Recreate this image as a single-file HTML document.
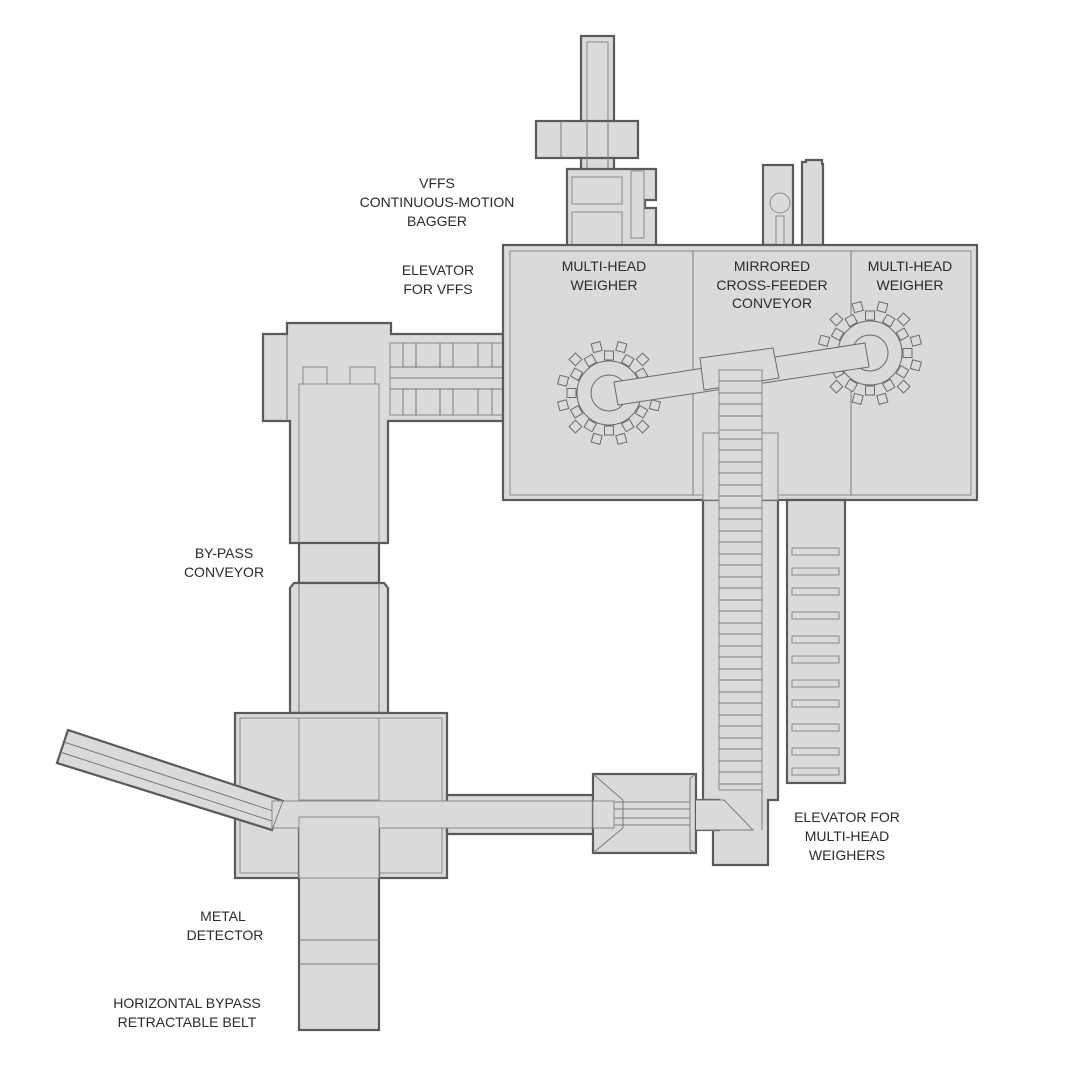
<!DOCTYPE html>
<html><head><meta charset="utf-8"><style>
html,body{margin:0;padding:0;background:#fff;}
svg{display:block;}
text{font-family:"Liberation Sans",sans-serif;font-size:14px;fill:#2a2a2a;text-anchor:middle;}
.o{fill:#dadada;stroke:#5a5a5a;stroke-width:2.2;}
.t{fill:#dadada;stroke:#8a8a8a;stroke-width:1;}
.l{fill:none;stroke:#7a7a7a;stroke-width:1;}
.b{fill:#dadada;stroke:#6a6a6a;stroke-width:1;}
</style></head><body>
<svg width="1080" height="1080" viewBox="0 0 1080 1080">
<defs>
<g id="dial">
<g class="b">
<rect x="-4.5" y="-42" width="9" height="9"/><rect x="-4.5" y="-42" width="9" height="9" transform="rotate(30)"/><rect x="-4.5" y="-42" width="9" height="9" transform="rotate(60)"/><rect x="-4.5" y="-42" width="9" height="9" transform="rotate(90)"/><rect x="-4.5" y="-42" width="9" height="9" transform="rotate(120)"/><rect x="-4.5" y="-42" width="9" height="9" transform="rotate(150)"/><rect x="-4.5" y="-42" width="9" height="9" transform="rotate(180)"/><rect x="-4.5" y="-42" width="9" height="9" transform="rotate(210)"/><rect x="-4.5" y="-42" width="9" height="9" transform="rotate(240)"/><rect x="-4.5" y="-42" width="9" height="9" transform="rotate(270)"/><rect x="-4.5" y="-42" width="9" height="9" transform="rotate(300)"/><rect x="-4.5" y="-42" width="9" height="9" transform="rotate(330)"/>
<rect x="-4.5" y="-52" width="9" height="9" transform="rotate(15)"/><rect x="-4.5" y="-52" width="9" height="9" transform="rotate(45)"/><rect x="-4.5" y="-52" width="9" height="9" transform="rotate(75)"/><rect x="-4.5" y="-52" width="9" height="9" transform="rotate(105)"/><rect x="-4.5" y="-52" width="9" height="9" transform="rotate(135)"/><rect x="-4.5" y="-52" width="9" height="9" transform="rotate(165)"/><rect x="-4.5" y="-52" width="9" height="9" transform="rotate(195)"/><rect x="-4.5" y="-52" width="9" height="9" transform="rotate(225)"/><rect x="-4.5" y="-52" width="9" height="9" transform="rotate(255)"/><rect x="-4.5" y="-52" width="9" height="9" transform="rotate(285)"/><rect x="-4.5" y="-52" width="9" height="9" transform="rotate(315)"/><rect x="-4.5" y="-52" width="9" height="9" transform="rotate(345)"/>
</g>
<circle r="32" class="b"/><circle r="18" class="b"/>
</g>
</defs>

<!-- top column -->
<rect x="581" y="36" width="33" height="134" class="o"/>
<rect x="587" y="42" width="21" height="128" class="t"/>
<rect x="536" y="121" width="102" height="37" class="o"/>
<line x1="561" y1="121" x2="561" y2="158" class="l"/><line x1="587" y1="121" x2="587" y2="170" class="l"/><line x1="608" y1="121" x2="608" y2="170" class="l"/>
<!-- bagger -->
<path d="M567,246 V169 H656 V200 H645 V208 H656 V246 Z" class="o"/>
<rect x="631" y="171" width="13" height="67" class="t"/>
<rect x="572" y="177" width="50" height="27" class="t"/>
<rect x="572" y="212" width="50" height="34" class="t"/>
<!-- small right items -->
<rect x="763" y="165" width="30" height="80" class="o"/>
<circle cx="780" cy="203" r="10" class="t"/>
<rect x="776" y="216" width="8" height="30" class="t"/>
<path d="M802,246 V162 H806 V160 H822 V164 H823 V246 Z" class="o"/>

<!-- left by-pass section -->
<path d="M263,334 H287 V323 H391 V334 H503 V421 H388 V543 H290 V421 H263 Z" class="o"/>
<line x1="287" y1="334" x2="287" y2="421" class="l"/>
<rect x="303" y="367" width="24" height="18" class="t"/>
<rect x="350" y="367" width="25" height="18" class="t"/>
<rect x="299" y="384" width="80" height="159" class="t"/>
<rect x="390" y="343" width="113" height="72" class="t"/>
<g class="l">
<line x1="390" y1="367" x2="503" y2="367"/><line x1="390" y1="378" x2="503" y2="378"/><line x1="390" y1="389" x2="503" y2="389"/>
<line x1="403" y1="343" x2="403" y2="367"/><line x1="416" y1="343" x2="416" y2="367"/><line x1="440" y1="343" x2="440" y2="367"/><line x1="453" y1="343" x2="453" y2="367"/><line x1="478" y1="343" x2="478" y2="367"/><line x1="492" y1="343" x2="492" y2="367"/>
<line x1="403" y1="389" x2="403" y2="415"/><line x1="416" y1="389" x2="416" y2="415"/><line x1="440" y1="389" x2="440" y2="415"/><line x1="453" y1="389" x2="453" y2="415"/><line x1="478" y1="389" x2="478" y2="415"/><line x1="492" y1="389" x2="492" y2="415"/>
</g>
<rect x="299" y="543" width="80" height="40" class="o"/>
<path d="M294,583 H384 L388,588 V713 H290 V588 Z" class="o"/>
<line x1="299" y1="583" x2="299" y2="713" class="l"/><line x1="379" y1="583" x2="379" y2="713" class="l"/>

<!-- main weigher box -->
<rect x="503" y="245" width="474" height="255" class="o"/>
<rect x="510" y="251" width="461" height="244" class="t"/>
<line x1="693" y1="251" x2="693" y2="495" class="l"/>
<line x1="851" y1="251" x2="851" y2="495" class="l"/>

<!-- right slotted bar -->
<rect x="787" y="500" width="58" height="283" class="o"/>
<g class="t">
<rect x="792" y="548" width="47" height="7"/><rect x="792" y="568" width="47" height="7"/><rect x="792" y="588" width="47" height="7"/><rect x="792" y="612" width="47" height="7"/><rect x="792" y="636" width="47" height="7"/><rect x="792" y="656" width="47" height="7"/><rect x="792" y="680" width="47" height="7"/><rect x="792" y="700" width="47" height="7"/><rect x="792" y="724" width="47" height="7"/><rect x="792" y="748" width="47" height="7"/><rect x="792" y="768" width="47" height="7"/>
</g>

<!-- elevator multihead -->
<path d="M703,500 V800 H713 V865 H768 V800 H778 V500 Z" class="o"/>
<rect x="703" y="433" width="75" height="67" class="t"/>
<rect x="719" y="370" width="43" height="420" class="t"/>
<g class="l">
<line x1="719" y1="381" x2="762" y2="381"/><line x1="719" y1="393" x2="762" y2="393"/><line x1="719" y1="404" x2="762" y2="404"/><line x1="719" y1="416" x2="762" y2="416"/><line x1="719" y1="427" x2="762" y2="427"/><line x1="719" y1="439" x2="762" y2="439"/><line x1="719" y1="450" x2="762" y2="450"/><line x1="719" y1="462" x2="762" y2="462"/><line x1="719" y1="473" x2="762" y2="473"/><line x1="719" y1="485" x2="762" y2="485"/><line x1="719" y1="496" x2="762" y2="496"/><line x1="719" y1="508" x2="762" y2="508"/><line x1="719" y1="519" x2="762" y2="519"/><line x1="719" y1="531" x2="762" y2="531"/><line x1="719" y1="542" x2="762" y2="542"/><line x1="719" y1="554" x2="762" y2="554"/><line x1="719" y1="565" x2="762" y2="565"/><line x1="719" y1="577" x2="762" y2="577"/><line x1="719" y1="588" x2="762" y2="588"/><line x1="719" y1="600" x2="762" y2="600"/><line x1="719" y1="611" x2="762" y2="611"/><line x1="719" y1="623" x2="762" y2="623"/><line x1="719" y1="634" x2="762" y2="634"/><line x1="719" y1="646" x2="762" y2="646"/><line x1="719" y1="657" x2="762" y2="657"/><line x1="719" y1="669" x2="762" y2="669"/><line x1="719" y1="680" x2="762" y2="680"/><line x1="719" y1="692" x2="762" y2="692"/><line x1="719" y1="703" x2="762" y2="703"/><line x1="719" y1="715" x2="762" y2="715"/><line x1="719" y1="726" x2="762" y2="726"/><line x1="719" y1="738" x2="762" y2="738"/><line x1="719" y1="749" x2="762" y2="749"/><line x1="719" y1="761" x2="762" y2="761"/><line x1="719" y1="772" x2="762" y2="772"/><line x1="719" y1="784" x2="762" y2="784"/>
</g>

<!-- dials and arm -->
<use href="#dial" x="609" y="393"/>
<use href="#dial" x="870" y="353"/>
<polygon points="614,382 865,343 869,367 618,405" class="b"/>
<polygon points="700,358 773,348 779,378 704,390" class="b"/>
<rect x="719" y="370" width="43" height="60" class="t"/>
<g class="l"><line x1="719" y1="381" x2="762" y2="381"/><line x1="719" y1="393" x2="762" y2="393"/><line x1="719" y1="404" x2="762" y2="404"/><line x1="719" y1="416" x2="762" y2="416"/></g>

<!-- metal detector box -->
<rect x="235" y="713" width="212" height="165" class="o"/>
<rect x="240" y="718" width="202" height="155" class="t"/>
<rect x="299" y="718" width="80" height="82" class="t"/>
<rect x="299" y="817" width="80" height="213" class="o"/>
<line x1="299" y1="878" x2="379" y2="878" class="l"/>
<line x1="299" y1="940" x2="379" y2="940" class="l"/>
<line x1="299" y1="964" x2="379" y2="964" class="l"/>
<!-- horizontal conveyor -->
<path d="M447,795 H593 V834 H447 Z" class="o"/>
<polygon points="68,730 283,801 272,830 57,763" class="o"/>
<line x1="64" y1="742" x2="279" y2="813" class="l"/>
<line x1="60" y1="752" x2="275" y2="822" class="l"/>
<rect x="272" y="801" width="342" height="27" class="t"/>
<line x1="283" y1="801" x2="272" y2="830" class="l"/>
<rect x="299" y="817" width="80" height="61" class="t"/>
<!-- transfer box -->
<rect x="593" y="774" width="103" height="79" class="o"/>
<g class="l">
<line x1="593" y1="774" x2="623" y2="800"/><line x1="593" y1="853" x2="623" y2="828"/><line x1="623" y1="800" x2="623" y2="828"/>
<line x1="690" y1="778" x2="690" y2="850"/><line x1="690" y1="778" x2="696" y2="774"/><line x1="690" y1="850" x2="696" y2="853"/>
<line x1="614" y1="802" x2="690" y2="802"/><line x1="614" y1="809" x2="690" y2="809"/><line x1="614" y1="818" x2="690" y2="818"/><line x1="614" y1="825" x2="690" y2="825"/>
</g>
<rect x="593" y="801" width="21" height="27" class="t"/>
<path d="M696,800 H719 V830 H696 Z" class="o"/>
<rect x="696" y="800" width="66" height="30" class="t" style="stroke:none"/>
<path d="M696,800 H724 L753,830 H696" class="l"/>
<line x1="762" y1="790" x2="762" y2="830" class="l"/>

<!-- labels -->
<text x="437" y="188">VFFS</text><text x="437" y="207">CONTINUOUS-MOTION</text><text x="437" y="226">BAGGER</text>
<text x="438" y="275">ELEVATOR</text><text x="438" y="294">FOR VFFS</text>
<text x="604" y="271">MULTI-HEAD</text><text x="604" y="290">WEIGHER</text>
<text x="772" y="271">MIRRORED</text><text x="772" y="290">CROSS-FEEDER</text><text x="772" y="308">CONVEYOR</text>
<text x="910" y="271">MULTI-HEAD</text><text x="910" y="290">WEIGHER</text>
<text x="224" y="558">BY-PASS</text><text x="224" y="577">CONVEYOR</text>
<text x="847" y="822">ELEVATOR FOR</text><text x="847" y="841">MULTI-HEAD</text><text x="847" y="860">WEIGHERS</text>
<text x="223" y="921">METAL</text><text x="225" y="940">DETECTOR</text>
<text x="187" y="1008">HORIZONTAL BYPASS</text><text x="187" y="1027">RETRACTABLE BELT</text>
</svg>
</body></html>
